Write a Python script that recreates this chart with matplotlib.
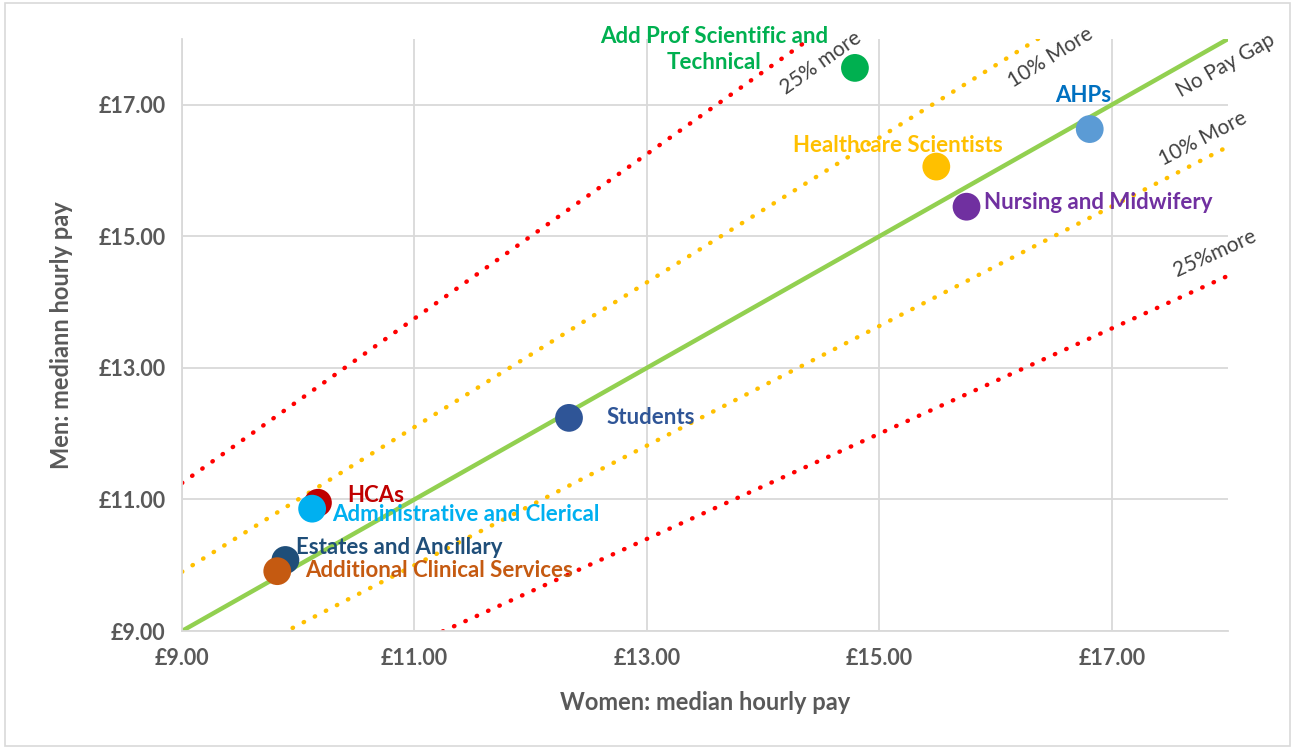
import matplotlib.pyplot as plt
import numpy as np

plt.rcParams['font.family'] = ['Lato', 'DejaVu Sans']

# staff groups
groups = ['Add Prof Scientific and\nTechnical', 'AHPs', 'Healthcare Scientists',
          'Nursing and Midwifery', 'Students', 'HCAs', 'Administrative and Clerical',
          'Estates and Ancillary', 'Additional Clinical Services']
women = [14.79, 16.81, 15.49, 15.75, 12.33, 10.17, 10.12, 9.89, 9.82]
men = [17.56, 16.63, 16.06, 15.45, 12.24, 10.95, 10.86, 10.08, 9.91]
pointColours = ['#00B050', '#5B9BD5', '#FFC000', '#7030A0', '#2F5597',
                '#C00000', '#00B0F0', '#1F4E79', '#C55A11']
labelColours = ['#00B050', '#0070C0', '#FFC000', '#7030A0', '#2F5597',
                '#C00000', '#00B0F0', '#1F4E79', '#C55A11']
# label anchor (x, y, ha)
labelPos = [(13.58, 17.84, 'center'), (16.75, 17.14, 'center'), (15.16, 16.38, 'center'),
            (15.90, 15.51, 'left'), (12.65, 12.24, 'left'), (10.42, 11.06, 'left'),
            (10.29, 10.77, 'left'), (9.98, 10.27, 'left'), (10.06, 9.92, 'left')]

# reference lines: men = ratio * women
ratios = [1.25, 1.1, 1.0, 1 / 1.1, 0.8]
ratioNames = ['25% more', '10% More', 'No Pay Gap', '10% More', '25%more']
ratioColours = ['#FF0000', '#FFC000', '#92D050', '#FFC000', '#FF0000']
ratioLabelPos = [(14.50, 17.64), (16.47, 17.72), (17.98, 17.60), (17.78, 16.48), (17.89, 14.74)]

ticks = [9, 11, 13, 15, 17]

fig = plt.figure(figsize=(12.95, 7.49), dpi=100)
ax = fig.add_axes([0.1405, 0.1575, 0.8078, 0.7905])

xs = np.array([9, 18])
for r, c in zip(ratios, ratioColours):
    if r == 1.0:
        ax.plot(xs, xs * r, color=c, lw=3.2, zorder=2)
    else:
        ax.plot(xs, xs * r, color=c, lw=3.2, linestyle=(0, (0.1, 2.7)),
                dash_capstyle='round', zorder=2)

for (lx, ly), r, name in zip(ratioLabelPos, ratios, ratioNames):
    ax.text(lx, ly, name, rotation=np.degrees(np.arctan(r)), transform_rotates_text=True,
            rotation_mode='anchor', ha='center', va='center', fontsize=15,
            color='#404040', zorder=5)

ax.scatter(women, men, s=400, c=pointColours, zorder=4, linewidths=0)

for g, (lx, ly, ha), col in zip(groups, labelPos, labelColours):
    ax.text(lx, ly, g, color=col, ha=ha, va='center', fontsize=16,
            fontweight='bold', linespacing=1.3, zorder=6)

ax.set_xlim(9, 18)
ax.set_ylim(9, 18)
ax.set_xticks(ticks)
ax.set_yticks(ticks)
ax.set_xticklabels(['£%.2f' % t for t in ticks])
ax.set_yticklabels(['£%.2f' % t for t in ticks])
ax.tick_params(length=0, labelsize=15.5, labelcolor='#595959', pad=12)
for lab in ax.get_xticklabels() + ax.get_yticklabels():
    lab.set_fontweight('bold')
ax.grid(True, color='#D9D9D9', lw=1.3)
ax.set_axisbelow(True)
for s in ['top', 'right']:
    ax.spines[s].set_visible(False)
for s in ['left', 'bottom']:
    ax.spines[s].set_color('#D9D9D9')
    ax.spines[s].set_linewidth(1.3)

ax.set_xlabel('Women: median hourly pay', fontsize=17, fontweight='bold',
              color='#595959', labelpad=16)
ax.set_ylabel('Men: mediann hourly pay', fontsize=17, fontweight='bold',
              color='#595959', labelpad=18)

fig.patches.append(plt.Rectangle((0.004, 0.004), 0.992, 0.992, transform=fig.transFigure,
                                 fill=False, edgecolor='#D9D9D9', lw=1.2))

fig.savefig('out.png', dpi=100)
